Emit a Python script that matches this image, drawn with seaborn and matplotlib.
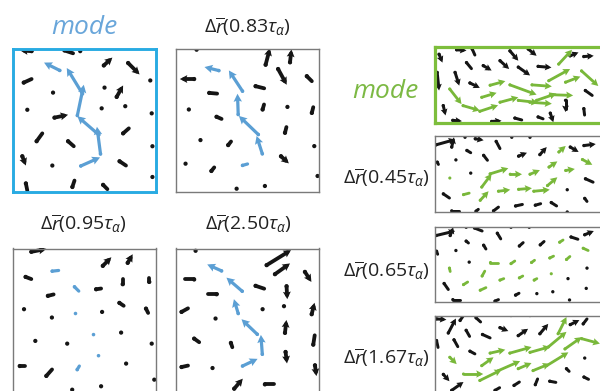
import matplotlib
matplotlib.use("Agg")
import matplotlib.pyplot as plt
from matplotlib.collections import LineCollection
import seaborn as sns
import numpy as np

sns.set_theme(style="white")
plt.rcParams["font.family"] = ["Open Sans", "DejaVu Sans"]
plt.rcParams["mathtext.fontset"] = "custom"
plt.rcParams["mathtext.rm"] = "Open Sans"
plt.rcParams["mathtext.it"] = "Open Sans:italic"
plt.rcParams["mathtext.bf"] = "Open Sans:bold"
plt.rcParams["mathtext.fallback"] = "stixsans"

# ---------------- data: (x, y, dx, dy) per particle, y measured downward ----------------
A_black = [(1.3,0.15,-0.8,-0.05),(3.6,0.1,0.6,0.2),(4.7,0.15,0,0),(6.35,1.15,0.6,-0.55),
           (8.05,0.98,0.8,0.8),(0.75,2.35,0.55,-0.25),(9.6,2.2,0,0),(2.8,3.05,0,0),(6.4,2.7,0,0),
           (7.25,3.35,0.45,-0.8),(1.0,4.25,0,0),(6.2,4.15,0,0),(7.85,4.0,0,0),(9.7,4.5,0,0),
           (2.9,4.8,0.95,-0.2),(1.65,6.45,0.4,-0.55),(3.85,6.45,0.4,0.35),(7.7,5.9,0.4,-0.35),
           (9.75,6.8,0,0),(0.65,7.5,0.25,0.65),(2.75,8.15,0,0),(7.45,7.85,0.45,0.3),
           (9.75,8.95,0,0),(0.9,9.4,0.1,0.5),(4.15,9.65,0.15,-0.45),(6.3,9.5,0.3,0.3)]
A_blue = [(3.27,1.5,-1.1,-0.55),(4.86,3.13,-1.1,-1.8),(4.5,4.65,0.45,-2.15),
          (6.0,6.0,-1.5,-1.3),(6.12,7.34,-0.25,-1.9),(4.74,8.18,1.35,-0.6)]

B_black = [(1.47,0.05,0,0),(6.28,1.1,0.3,-1.15),(7.98,0.93,0.1,-0.9),(1.3,2.1,-1.0,0),
           (7.15,1.4,0.6,1.1),(9.15,1.9,0.35,0.35),(2.35,3.07,0.55,0.05),(5.58,2.6,0.6,0.15),
           (0.93,4.23,0,0),(6.07,4.23,0.1,-0.35),(7.8,4.05,0,0),(9.5,4.47,0.1,-0.4),
           (2.86,4.74,0.35,0.15),(7.63,5.86,0.1,-0.4),(1.74,6.37,0,0),(3.67,6.72,0.2,-0.25),
           (9.67,6.79,0,0),(7.35,7.5,0.55,0.5),(0.7,8.02,0,0),(2.5,8.53,0.2,-0.25),
           (9.9,8.88,0,0),(4.26,9.77,0,0),(6.23,9.58,0,0)]
B_blue = [(3.02,1.51,-1.0,-0.25),(4.67,2.95,-0.95,-1.45),(4.37,4.58,-0.05,-1.45),
          (5.77,5.98,-1.35,-1.3),(6.05,7.33,-0.4,-1.25),(4.67,8.14,0.35,-0.1)]

C_black = [(1.28,0.23,1.05,-0.2),(6.28,1.21,0.6,-0.6),(8.02,1.0,0.35,-0.6),(0.88,1.98,0.4,0.15),
           (7.67,2.49,0,-0.35),(9.53,2.33,0,-0.3),(2.44,3.3,0.4,-0.1),(5.81,2.84,0.35,-0.05),
           (0.77,4.23,0,0),(7.44,3.79,0.3,0.2),(9.3,4.19,0.15,0.3),(2.72,4.81,0,0),
           (6.23,4.42,0,0),(1.56,6.44,0,0),(3.79,6.63,0,0),(7.56,5.86,0,0),(9.7,6.63,0,0),
           (0.47,8.19,0.4,0),(2.33,8.88,0.4,-0.45),(7.91,8.02,0,0),(9.88,9.14,0,0),
           (6.16,9.6,0,0),(4.14,9.84,0,0)]
C_blue = [(2.74,1.58,0.45,-0.05),(4.3,2.67,0.3,0.3),(4.37,4.53,0,0),
          (5.63,6.0,0,0),(5.98,7.47,0,0),(4.49,8.44,0.15,-0.25)]

D_black = [(1.4,0.16,0,0),(6.35,1.16,1.7,-1.05),(6.93,1.79,1.05,-0.75),(1.3,2.16,-0.65,0),
           (9.02,1.63,0.45,0.7),(2.86,3.19,-0.6,0),(5.58,2.6,0.6,0.2),(7.74,2.63,0.05,0.9),
           (0.42,4.42,0.45,-0.25),(6.07,4.23,0,0),(7.56,4.02,0,0),(9.49,4.58,0.2,-0.8),
           (2.79,4.88,0,0),(7.63,5.88,0.1,-0.9),(1.3,6.28,0.35,0.25),(3.86,6.58,0.1,0.3),
           (9.6,6.7,0.1,-0.65),(7.67,7.21,0.1,0.8),(0.42,8.26,0.45,-0.1),(2.58,8.33,0,0),
           (9.72,8.14,0.1,0.75),(4.09,9.77,0.6,-0.7),(6.23,9.47,0.6,0)]
D_blue = [(3.21,1.56,-1.0,-0.45),(4.65,2.98,-1.1,-0.95),(4.37,4.53,-0.3,-1.0),
          (5.7,5.98,-1.1,-1.05),(6.05,7.37,-0.1,-1.35),(4.67,8.19,1.05,-0.5)]

E_black = [(0.6,0.9,0.45,1.1),(2.9,0.3,1.3,0.1),(4.95,0.2,0.35,0.8),(9.9,0.45,1.1,1.3),
           (12.3,0.2,1.1,0.9),(4.2,2.0,0.65,0.8),(6.4,2.4,1.1,0.65),(8.6,1.75,1.2,1.1),
           (11.0,2.6,1.55,1.1),(13.6,2.5,1.75,0.15),(17.8,1.1,1.1,-0.45),(19.6,1.2,1.3,-0.1),
           (0.35,3.3,0.25,2.4),(2.7,3.3,0.55,1.75),(4.65,4.7,1.3,0.65),(19.8,5.7,0.9,0.65),
           (1.15,7.7,0.3,1.3),(17.2,7.0,0,1.55),(19.6,8.1,0.1,0.85),(2.4,9.65,1.2,0.1),
           (7.5,9.8,1.3,-0.1),(10.55,9.35,0.9,0.25),(13.6,9.2,0.65,0.25),(15.2,8.7,0.4,1.2)]
E_green = [(2.0,5.5,1.55,2.0),(3.75,7.7,2.2,0.65),(5.95,8.45,2.4,-0.8),(8.6,7.25,2.4,-0.65),
           (11.0,7.0,2.6,0.3),(12.5,7.25,2.9,0.2),(13.4,7.0,2.6,-0.9),(15.2,6.25,3.0,0.1),
           (6.2,6.6,1.95,-0.6),(7.3,5.0,2.0,-0.55),(9.9,4.95,3.5,1.3),(12.8,4.95,2.6,0.2),
           (15.0,4.4,2.8,-1.55),(16.3,2.2,1.75,-1.9),(17.2,4.6,1.95,-0.75),(19.3,3.1,2.2,2.0)]

F_black = [(0.15,1.1,2.5,-0.7),(2.2,1.4,0.3,-1.3),(3.95,0.1,0,0),(5.3,0.3,1.1,0.2),
           (8.05,0.65,0.5,0.95),(10.1,0.1,0,0),(12.5,0.1,0,0),(17.8,1.4,1.1,0.65),
           (19.6,1.2,1.55,-0.2),(4.2,1.85,0.5,0.3),(6.4,2.5,0.5,0.65),(11.0,2.6,1.1,-0.45),
           (13.8,2.4,0.9,-1.0),(0.3,3.4,0.15,0.3),(2.75,3.1,0,0),(4.7,4.85,0,0),
           (19.8,5.6,1.0,0.45),(1.1,7.6,0.8,0.55),(17.4,7.05,0,0),(19.7,8.2,0.3,0.4),
           (2.2,9.85,0.9,0),(5.4,9.9,0.3,-0.25),(7.7,9.85,0.65,-0.5),(10.6,9.2,0.9,-0.2),
           (13.2,9.1,0.7,-0.2),(15.3,8.75,0.7,0.45),(17.4,10.0,0,0)]
F_green = [(1.95,5.5,0,0),(3.75,7.7,0.75,-0.2),(5.95,8.45,1.1,-1.2),(6.15,6.7,1.3,-1.75),
           (7.25,4.95,2.4,-0.75),(9.9,5.0,1.55,0),(12.5,5.0,1.3,-0.55),(15.0,4.05,1.1,-0.75),
           (16.3,2.05,0.9,-0.8),(17.2,4.5,1.2,-0.2),(19.4,3.05,1.3,0.7),(14.8,6.5,1.3,-1.1),
           (8.35,7.25,1.55,-0.2),(11.0,7.0,1.75,-0.15),(13.0,7.25,2.1,-0.2)]

G_black = [(0.15,1.2,2.5,-0.6),(2.0,1.2,0.4,-1.1),(4.1,0.1,0,0),(10.0,0.1,0,0),(12.4,0.1,0,0),
           (5.2,0.2,1.0,0.4),(8.2,0.9,0.45,0.75),(17.9,1.4,0.9,0.3),(19.7,1.1,1.2,-0.5),
           (4.1,1.95,0.3,0.25),(6.4,2.5,0.3,0.5),(11.1,2.6,0.5,-0.45),(13.85,2.45,0.5,-0.45),
           (0.2,3.3,0.15,0.4),(2.75,3.2,0,0),(4.5,4.75,0,0),(20.0,5.55,0,0),(1.2,7.6,0.55,0.8),
           (17.5,6.95,0,0),(19.9,8.25,0,0),(2.35,9.75,0.9,0),(7.9,9.95,0.45,-0.2),
           (10.6,9.15,0.45,-0.25),(13.4,8.95,0,0),(15.5,8.7,0,0),(17.7,9.8,0,0)]
G_green = [(1.9,5.55,0.1,0.45),(3.75,7.75,0.55,-0.35),(5.95,8.5,0.75,-0.35),(6.2,6.6,0.35,-0.65),
           (7.3,4.8,1.0,0),(10.0,4.95,0.5,-0.35),(12.7,4.8,0.4,-0.3),(15.1,4.2,0.5,-0.25),
           (16.4,2.1,0.45,-0.3),(17.3,4.4,0.45,-0.4),(19.5,2.9,0.65,0.3),(15.3,6.3,0,0),
           (8.55,7.15,0.5,-0.2),(11.1,6.85,0.45,-0.25),(13.05,7.15,0.35,-0.2)]

H_black = [(0.2,0.45,1.3,0.1),(1.75,2.3,1.0,-1.9),(3.3,0.65,0.45,-0.65),(5.4,0.3,0.6,0.55),
           (10.0,0.0,0,0),(12.5,0.0,0,0),(0.2,3.3,0.2,0.9),(4.1,1.95,0.45,0.8),
           (6.25,2.5,1.0,0.45),(8.55,1.6,1.1,0.45),(10.95,2.65,1.3,-0.9),(13.8,2.4,1.1,-1.3),
           (17.8,1.2,1.2,-0.6),(19.5,1.1,0.5,-0.65),(2.5,3.2,0.5,0.9),(4.6,4.7,0.65,0.35),
           (19.7,5.6,0,0),(1.1,7.75,0.8,0.9),(17.3,7.0,0.35,0.35),(19.6,8.1,0.6,0.3),
           (2.2,9.85,1.55,-1.1),(7.9,9.85,0.6,-0.35),(10.4,9.2,0.7,-0.45),(13.2,9.1,0.3,-0.75),
           (15.1,8.65,0.8,0.15)]
H_green = [(1.95,5.5,0.9,0.9),(3.75,7.7,2.6,0),(5.9,8.55,2.85,-1.4),(6.15,6.6,1.55,-1.1),
           (7.25,4.95,2.0,-0.45),(9.85,4.95,2.85,-0.8),(12.5,4.85,2.65,-0.75),(14.9,4.15,2.4,-2.0),
           (16.2,2.4,1.1,-2.2),(17.1,4.4,2.2,-1.55),(19.3,3.05,2.4,0.65),(14.7,6.6,2.85,-1.75),
           (8.35,7.25,2.85,-1.25),(10.95,7.0,1.75,-0.75),(12.9,7.25,2.2,-0.9)]

left_titles = ["mode", r"$\Delta\overline{r}$(0.83$\tau_{\alpha}$)",
               r"$\Delta\overline{r}$(0.95$\tau_{\alpha}$)", r"$\Delta\overline{r}$(2.50$\tau_{\alpha}$)"]
right_titles = ["mode", r"$\Delta\overline{r}$(0.45$\tau_{\alpha}$)",
                r"$\Delta\overline{r}$(0.65$\tau_{\alpha}$)", r"$\Delta\overline{r}$(1.67$\tau_{\alpha}$)"]

BLACK = "#151515"
BLUE = "#5B9FD4"
BLUE_EDGE = "#29ABE2"
BLUE_TEXT = "#69A6DA"
GREEN = "#79B83A"
GREEN_EDGE = "#7DBE3C"
GREEN_TEXT = "#7CB944"
GRAY = "#7a7a7a"

W, H = 600, 391
fig = plt.figure(figsize=(W / 100, H / 100), dpi=100)


def box(l, t, r, b):
    return [l / W, 1 - b / H, (r - l) / W, (b - t) / H]


def draw_field(ax, data, color, lw_px, ppu, head_px):
    """Shafts as round-capped thick lines, particles as dots, heads via quiver."""
    a = np.array(data, float)
    x, y, u, v = a.T
    L = np.hypot(u, v) * ppu  # arrow length in pixels
    frac = np.clip(1 - 0.55 * head_px / np.maximum(L, 1e-9), 0, 1)
    long_ = L > 1.3 * head_px
    frac = np.where(long_, frac, 1.0)
    segs = [[(xi, yi), (xi + ui * f, yi + vi * f)] for xi, yi, ui, vi, f in zip(x, y, u, v, frac)]
    ax.add_collection(LineCollection(segs, colors=color, linewidths=lw_px * 0.72,
                                     capstyle="round", zorder=3))
    sns.scatterplot(x=x, y=y, s=(lw_px * 0.8) ** 2, color=color, edgecolor="none",
                    linewidth=0, ax=ax, legend=False, zorder=3)
    if long_.any():
        ax.quiver(x[long_], y[long_], u[long_], v[long_], color=color, angles="xy",
                  scale_units="xy", scale=1, units="dots", width=1.0, pivot="tail",
                  headwidth=head_px * 1.05, headlength=head_px, headaxislength=head_px * 0.85,
                  zorder=4)


def setup(ax, xmax, edge, lw):
    ax.set_xlim(0, xmax)
    ax.set_ylim(10, 0)
    ax.set_xticks([])
    ax.set_yticks([])
    ax.set_xlabel("")
    ax.set_ylabel("")
    ax.set_facecolor("white")
    for sp in ax.spines.values():
        sp.set_visible(True)
        sp.set_color(edge)
        sp.set_linewidth(lw)
        sp.set_zorder(6)


left_boxes = [box(13, 49, 156, 192), box(175.5, 49, 319, 192),
              box(13, 248.5, 156, 392), box(175.5, 248.5, 319, 392)]
left_data = [(A_black, A_blue), (B_black, B_blue), (C_black, C_blue), (D_black, D_blue)]
left_title_pos = [(84, 28), (247, 27), (83, 224), (248, 224)]

for i, (bx, (bl, co)) in enumerate(zip(left_boxes, left_data)):
    ax = fig.add_axes(bx)
    draw_field(ax, bl, BLACK, 3.8, 14.3, 7.5)
    draw_field(ax, co, BLUE, 3.2, 14.3, 8.0)
    setup(ax, 10, BLUE_EDGE if i == 0 else GRAY, 2.1 if i == 0 else 1.0)
    tx, ty = left_title_pos[i]
    if i == 0:
        fig.text(tx / W, 1 - ty / H, left_titles[i], color=BLUE_TEXT, style="italic",
                 fontsize=19, ha="center", va="center")
    else:
        fig.text(tx / W, 1 - ty / H, left_titles[i], color="#222222",
                 fontsize=14, ha="center", va="center")

right_boxes = [box(434.5, 47.5, 640, 123), box(435, 136.5, 640, 212),
               box(435, 226.5, 640, 301.5), box(435, 315.5, 640, 391.5)]
right_data = [(E_black, E_green), (F_black, F_green), (G_black, G_green), (H_black, H_green)]
right_label_y = [91, 178, 271, 358]

for i, (bx, (bl, co)) in enumerate(zip(right_boxes, right_data)):
    ax = fig.add_axes(bx)
    draw_field(ax, bl, BLACK, 3.0, 7.6, 6.5)
    draw_field(ax, co, GREEN, 2.8, 7.6, 7.0)
    setup(ax, 205 / 7.6, GREEN_EDGE if i == 0 else GRAY, 2.3 if i == 0 else 1.0)
    if i == 0:
        fig.text(385 / W, 1 - right_label_y[i] / H, right_titles[i], color=GREEN_TEXT,
                 style="italic", fontsize=19, ha="center", va="center")
    else:
        fig.text(430 / W, 1 - right_label_y[i] / H, right_titles[i], color="#222222",
                 fontsize=14, ha="right", va="center")

fig.savefig("out.png", dpi=100, facecolor="white")
